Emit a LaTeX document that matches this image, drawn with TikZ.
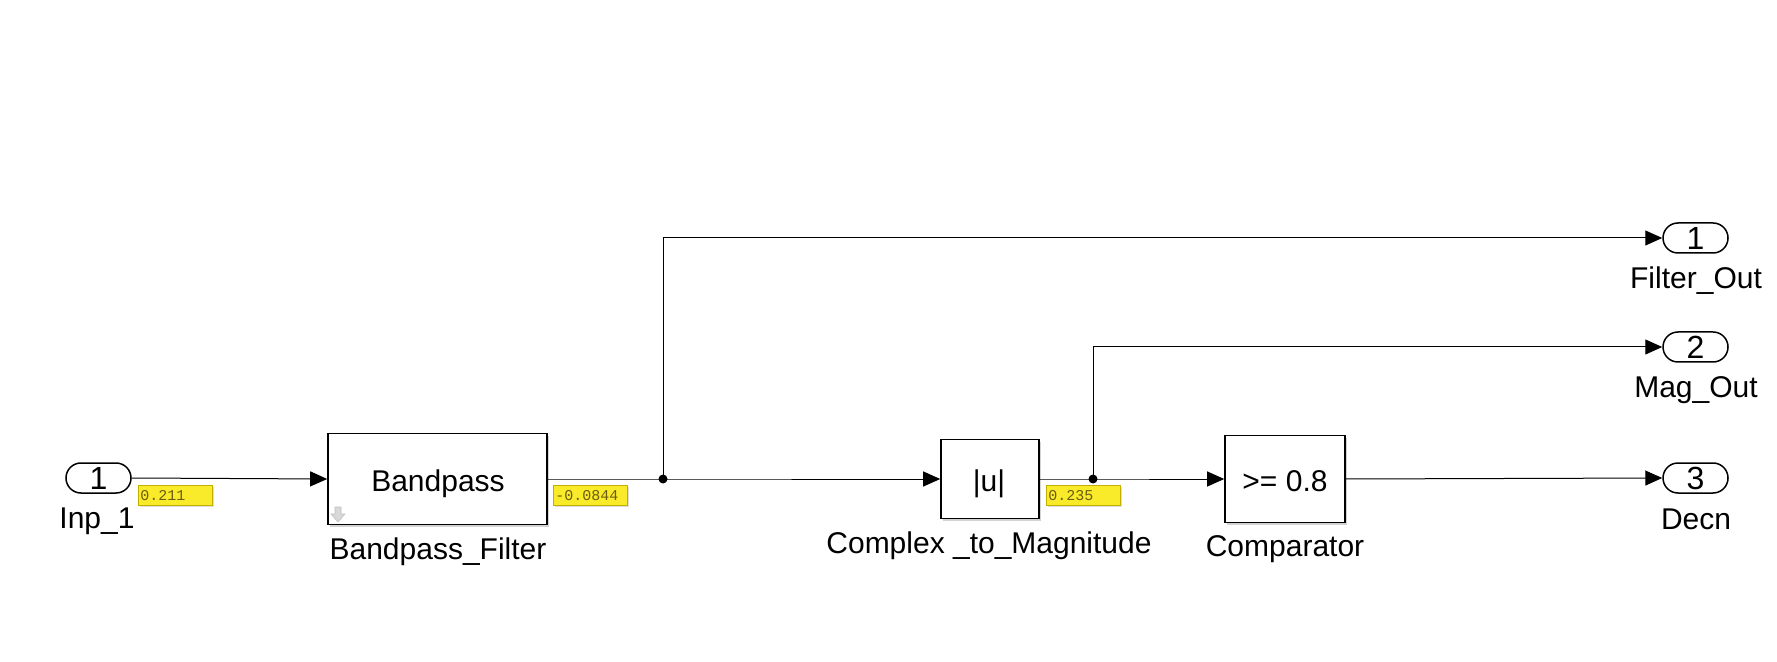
\documentclass[tikz,border=0pt]{standalone}
\usepackage{fontspec}
\setmainfont{Liberation Sans}
\newfontfamily\valfont{Liberation Mono}
\usetikzlibrary{positioning,arrows.meta,shapes.misc,shadows}
\definecolor{valfill}{HTML}{FAEB2A}
\definecolor{valedge}{HTML}{C2B000}
\definecolor{valtext}{HTML}{6B5C10}
\begin{document}
\begin{tikzpicture}[x=0.5pt,y=-0.5pt,
  every node/.style={font=\fontsize{15}{17}\selectfont},
  blk/.style={draw,line width=0.8pt,fill=white,inner sep=0pt,
    drop shadow={shadow xshift=1.2pt,shadow yshift=-1.2pt,opacity=0.35,fill=gray}},
  port/.style={draw,rounded rectangle,line width=0.75pt,minimum width=32.5pt,minimum height=15pt,inner sep=0pt,font=\fontsize{16}{18}\selectfont},
  lbl/.style={anchor=base,inner sep=0pt},
  val/.style={draw=valedge,fill=valfill,line width=0.4pt,minimum width=37pt,minimum height=10pt,inner sep=1pt,anchor=north west,
    text=valtext,font=\valfont\fontsize{7.5}{8}\selectfont,align=left,text width=35pt,
    drop shadow={shadow xshift=0.6pt,shadow yshift=-0.6pt,opacity=0.25,fill=gray}},
  sig/.style={line width=0.5pt,-{Triangle[length=8.5pt,width=7.5pt]}},
  dot/.style={circle,fill,inner sep=0pt,minimum size=4.5pt}]
\useasboundingbox (0,0) rectangle (1777,662);
% blocks
\node[port] (inp) at (98.5,478) {1};
\node[blk,minimum width=109.5pt,minimum height=45.5pt] (bpf) at (437.5,479) {};
\node[blk,minimum width=49pt,minimum height=39.5pt] (mag) at (990,479) {};
\node[blk,minimum width=60pt,minimum height=43.5pt] (cmp) at (1285,479) {};
\foreach \n/\y in {1/238,2/347,3/478} \node[port] (out\n) at (1695.5,\y) {\n};
% block texts
\node[lbl] (bpftxt) at (438,491) {Bandpass};
\node[lbl] (magtxt) at (989,491) {|u|};
\node[lbl] (cmptxt) at (1285,491) {>= 0.8};
\fill[gray!30,draw=gray!50,line width=0.3pt] (335,507) -- (341,507) -- (341,514) -- (345,514) -- (338,522) -- (331,514) -- (335,514) -- cycle;
% names
\node[lbl] (inpname) at (97,528) {Inp\_1};
\node[lbl] (bpfname) at (438,559) {Bandpass\_Filter};
\node[lbl] (magname) at (989,553) {Complex \_to\_Magnitude};
\node[lbl] (cmpname) at (1285,556) {Comparator};
\node[lbl] (out1name) at (1696,289) {Filter\_Out};
\node[lbl] (out2name) at (1696,398) {Mag\_Out};
\node[lbl] (out3name) at (1696,529) {Decn};
% signal lines
\coordinate (br1) at (663,479);
\coordinate (br2) at (1093,479);
\draw[sig] (inp.east) -- (bpf.west);
\draw[sig] (bpf.east) -- (br1) -- (mag.west);
\draw[sig] (br1) |- (out1.west);
\draw[sig] (mag.east) -- (br2) -- (cmp.west);
\draw[sig] (br2) |- (out2.west);
\draw[sig] (cmp.east) -- (out3.west);
\node[dot] (br1dot) at (br1) {};
\node[dot] (br2dot) at (br2) {};
% port values
\node[val] (v1) at (138,485) {0.211};
\node[val] (v2) at (553,485) {-0.0844};
\node[val] (v3) at (1046,485) {0.235};
\end{tikzpicture}
\end{document}
